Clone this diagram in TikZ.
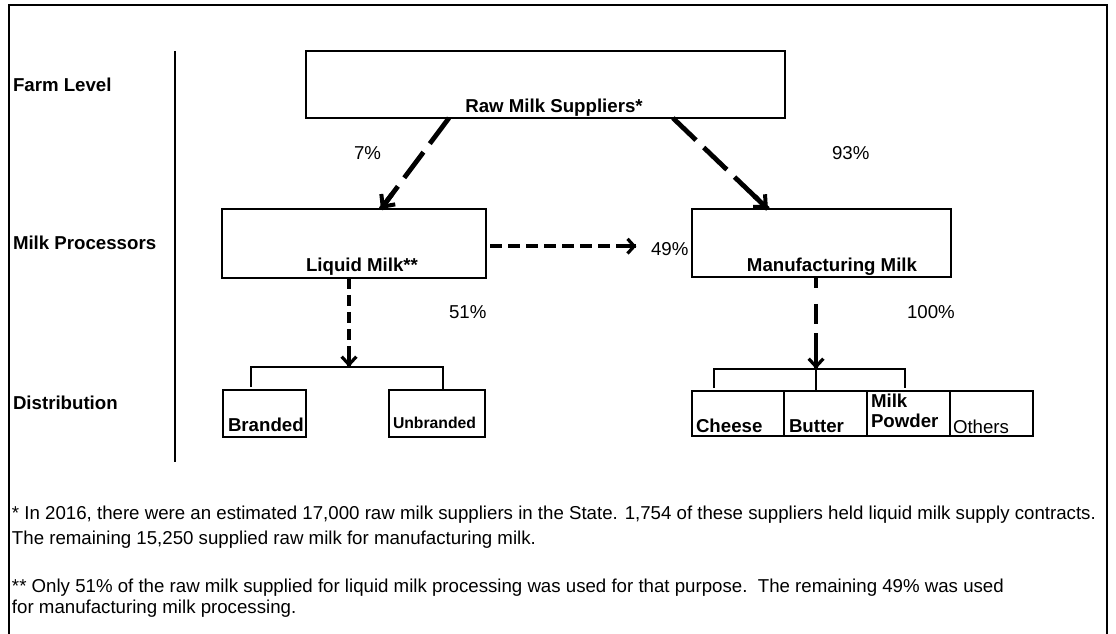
\documentclass[tikz,border=0pt]{standalone}
\usepackage{fontspec}
\setmainfont{Liberation Sans}
\usetikzlibrary{arrows.meta,calc}
\tikzset{
  box/.style={draw, line width=1.6pt, anchor=north west, inner sep=0pt, outer sep=0pt},
  txt/.style={anchor=base west, inner sep=0pt, outer sep=0pt, font=\fontsize{14pt}{16pt}\selectfont},
  btxt/.style={txt, font=\fontsize{14pt}{16pt}\selectfont\bfseries},
  bigline/.style={line width=3.6pt, dash pattern=on 24pt off 8pt},
  bigtip/.style={line width=3.6pt, -{Straight Barb[length=7pt,width=13pt,line width=3pt]}},
  midline/.style={line width=2.6pt, dash pattern=on 8.25pt off 4.5pt},
  midtip/.style={line width=2.6pt, -{Straight Barb[length=6pt,width=11pt,line width=2.4pt]}},
  thin/.style={line width=0.8pt}
}
\begin{document}
\begin{tikzpicture}[x=0.75pt,y=-0.75pt]
\useasboundingbox (0,0) rectangle (1116,634);
% frame
\draw[line width=2.2pt] (9,634) -- (9,5) -- (1107,5) -- (1107,634);
% divider
\draw[thin] (175,51) -- (175,462);
% level labels
\node[btxt] (farm) at (13,92) {Farm Level};
\node[btxt] (proc) at (13,250) {Milk Processors};
\node[btxt] (dist) at (13,409) {Distribution};
% main boxes
\node[box, minimum width=359.25pt, minimum height=50.25pt] (raw) at (306,51) {};
\node[btxt, anchor=base] (rawt) at (554,113) {Raw Milk Suppliers*};
\node[box, minimum width=198pt, minimum height=51.75pt] (liq) at (222,209) {};
\node[btxt, anchor=base] (liqt) at (362,272) {Liquid Milk**};
\node[box, minimum width=194.25pt, minimum height=51pt] (man) at (692,209) {};
\node[btxt, anchor=base] (mant) at (832,272) {Manufacturing Milk};
% percentages
\node[txt] (p7) at (354,160) {7\%};
\node[txt] (p93) at (832,160) {93\%};
\node[txt] (p49) at (651,256) {49\%};
\node[txt] (p51) at (449,319) {51\%};
\node[txt] (p100) at (907,319) {100\%};
% anchor points of the connectors
\coordinate (a7s) at ($(raw.south west)!0.2985!(raw.south east)$);
\coordinate (a7e) at ($(liq.north west)!0.602!(liq.north east)$);
\coordinate (a93s) at ($(raw.south west)!0.766!(raw.south east)$);
\coordinate (a93e) at ($(man.north west)!0.293!(man.north east)$);
% 7% and 93% arrows
\draw[bigline] (a7s) -- (a7e);
\draw[bigtip] ($(a7e)!14pt!(a7s)$) -- (a7e);
\draw[bigline] (a93s) -- (a93e);
\draw[bigtip] ($(a93e)!14pt!(a93s)$) -- (a93e);
% 49% arrow
\coordinate (hs) at ([xshift=3pt,yshift=-2pt]liq.east);
\coordinate (he) at ([xshift=-11pt]p49.west |- hs);
\draw[line width=2.5pt, dash pattern=on 9pt off 4.5pt] (hs) -- (he);
\draw[line width=2.5pt, -{Straight Barb[length=5pt,width=11pt,line width=2.4pt]}] ([xshift=-8pt]he) -- (he);
% liquid branch
\coordinate (lbr) at (349,367);
\draw[midline] (liq.south -| lbr) -- (lbr);
\draw[midtip] ([yshift=8pt]lbr) -- (lbr);
\node[box, minimum width=62.25pt, minimum height=35.25pt] (brand) at (223,390) {};
\node[box, minimum width=72pt, minimum height=35.25pt] (unbr) at (389,390) {};
\node[btxt] (brandt) at (228,431) {Branded};
\node[txt, font=\fontsize{11.8pt}{14pt}\selectfont\bfseries] (unbrt) at (393,428) {Unbranded};
\draw[thin] (251,387) -- (251,367) -- (443,367) -- (unbr.north -| 443,0);
% manufacturing branch
\coordinate (mbr) at (816,369);
\draw[midline, dash pattern=on 8.25pt off 12pt on 15pt off 7pt on 40pt off 0pt] (man.south -| mbr) -- (mbr);
\draw[midtip] ([yshift=8pt]mbr) -- (mbr);
\node[box, minimum width=69pt, minimum height=33.75pt] (chz) at (692,391) {};
\node[box, minimum width=62.25pt, minimum height=33.75pt] (but) at (784,391) {};
\node[box, minimum width=62.25pt, minimum height=33.75pt] (pow) at (867,391) {};
\node[box, minimum width=62.25pt, minimum height=33.75pt] (oth) at (950,391) {};
\node[btxt] (chzt) at (696,432) {Cheese};
\node[btxt] (butt) at (789,432) {Butter};
\node[btxt] (powt1) at (871,407) {Milk};
\node[btxt] (powt2) at (871,427) {Powder};
\node[txt] (otht) at (953,433) {Others};
\draw[thin] (714,388) -- (714,369) -- (905,369) -- (905,388);
\draw[thin] (mbr) -- (but.north -| mbr);
% footnotes
\node[txt] (f1) at (12,519) {* In 2016, there were an estimated 17,000 raw milk suppliers in the State. 1,754 of these suppliers held liquid milk supply contracts.};
\node[txt] (f2) at (12,544) {The remaining 15,250 supplied raw milk for manufacturing milk.};
\node[txt] (f3) at (12,592) {** Only 51\% of the raw milk supplied for liquid milk processing was used for that purpose.\ \ The remaining 49\% was used};
\node[txt] (f4) at (12,613) {for manufacturing milk processing.};
\end{tikzpicture}
\end{document}
